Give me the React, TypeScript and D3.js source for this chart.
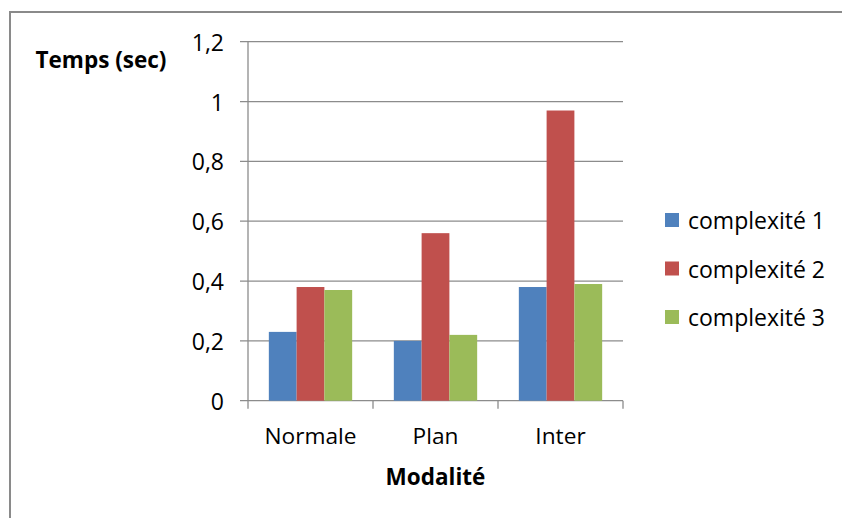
import React from "react";
import * as d3 from "d3";

const categories = ["Normale", "Plan", "Inter"];
const seriesNames = ["complexité 1", "complexité 2", "complexité 3"];
const complexite1 = [0.23, 0.2, 0.38];
const complexite2 = [0.38, 0.56, 0.97];
const complexite3 = [0.37, 0.22, 0.39];
const yTicks = [0, 0.2, 0.4, 0.6, 0.8, 1, 1.2];
const colors = ["#4F81BD", "#C0504D", "#9BBB59"];

const FONT = "'Open Sans', Lato, sans-serif";

export default function App() {
  const W = 842, H = 518;
  const left = 248, right = 623, top = 41.7, bottom = 400.7;
  const values = [complexite1, complexite2, complexite3];
  const y = d3.scaleLinear().domain([0, 1.2]).range([bottom, top]);
  const x0 = d3.scaleBand<string>().domain(categories).range([left, right]).padding(0);
  const x1 = d3.scaleBand<string>().domain(seriesNames).range([0, x0.bandwidth()]).paddingInner(0).paddingOuter(0.75);
  const fmt = (v: number) => String(v).replace(".", ",");
  const grid = "#8c8c8c";
  const catBounds = [left, ...categories.map((c) => (x0(c) as number) + x0.bandwidth())];

  return (
    <svg width={W} height={H} style={{ position: "absolute", left: 0, top: 0 }} fontFamily={FONT}>
      <rect x={0} y={0} width={W} height={H} fill="#fff" />
      <rect x={10} y={12} width={W + 20} height={H + 20} fill="none" stroke="#8a8a8a" strokeWidth={2} />
      {yTicks.map((t) => (
        <g key={t}>
          <line x1={240} x2={right} y1={y(t)} y2={y(t)} stroke={grid} strokeWidth={1.3} />
          <text x={224} y={y(t)} textAnchor="end" dominantBaseline="central" fontSize={23} fill="#000">
            {fmt(t)}
          </text>
        </g>
      ))}
      <line x1={left} x2={left} y1={top} y2={bottom} stroke={grid} strokeWidth={1.3} />
      {catBounds.map((b, i) => (
        <line key={i} x1={b} x2={b} y1={bottom} y2={bottom + 8} stroke={grid} strokeWidth={1.3} />
      ))}
      {categories.map((c, ci) => (
        <g key={c}>
          {seriesNames.map((s, si) => {
            const v = values[si][ci];
            const bx = (x0(c) as number) + (x1(s) as number);
            return (
              <rect key={s} x={bx} y={y(v)} width={x1.bandwidth()} height={bottom - y(v)} fill={colors[si]} />
            );
          })}
          <text x={(x0(c) as number) + x0.bandwidth() / 2} y={444} textAnchor="middle" fontSize={22.7} fill="#000">
            {c}
          </text>
        </g>
      ))}
      <text x={(left + right) / 2} y={485} textAnchor="middle" fontSize={22.5} fontWeight="bold" fill="#000">
        Modalité
      </text>
      <text x={101} y={68} textAnchor="middle" fontSize={22.5} fontWeight="bold" fill="#000">
        Temps (sec)
      </text>
      {seriesNames.map((s, i) => {
        const cy = 220 + i * 48.5;
        return (
          <g key={s}>
            <rect x={665} y={cy - 7} width={14} height={14} fill={colors[i]} />
            <text x={688} y={cy} dominantBaseline="central" fontSize={23} fill="#000">
              {s}
            </text>
          </g>
        );
      })}
    </svg>
  );
}
